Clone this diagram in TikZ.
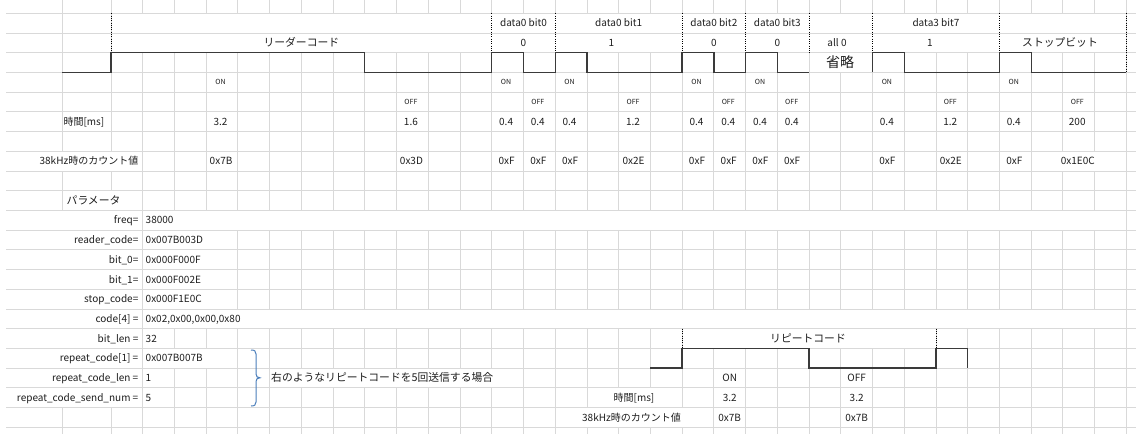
\documentclass[tikz,border=0pt]{standalone}
\usepackage{fontspec}
\setmainfont{Noto Sans CJK JP}
\definecolor{gridc}{HTML}{D9D9D9}
\definecolor{wavec}{HTML}{3A3A3A}
\definecolor{txt}{HTML}{1E1E1E}
\definecolor{bracec}{HTML}{4A7EBB}
\pgfmathdeclarefunction{cx}{1}{\pgfmathparse{111+31.73*#1}}
\pgfmathdeclarefunction{cc}{1}{\pgfmathparse{111+31.73*#1+15.86}}
\pgfmathdeclarefunction{rt}{1}{\pgfmathparse{13.3+19.71*(#1-1)}}
\pgfmathdeclarefunction{rc}{1}{\pgfmathparse{13.3+19.71*(#1-1)+9.855}}
\begin{document}
\begin{tikzpicture}[x=1pt,y=-1pt,
  t/.style={font=\fontsize{10}{12}\selectfont, text=txt, inner sep=0pt, text height=7.3pt, text depth=0pt},
  tj/.style={font=\fontsize{10.8}{12}\selectfont, text=txt, inner sep=0pt, text height=7.9pt, text depth=0pt},
  ts/.style={font=\fontsize{7}{8}\selectfont, text=txt, inner sep=0pt, text height=5.1pt, text depth=0pt},
  tl/.style={font=\fontsize{14}{16}\selectfont, text=txt, inner sep=0pt, text height=10.2pt, text depth=0pt},
  gridline/.style={draw=gridc, line width=0.9pt},
  wave/.style={draw=wavec, line width=1.3pt, line join=miter},
  sepline/.style={draw=black, line width=0.8pt, dash pattern=on 0.9pt off 1.4pt},
  cover/.style={fill=white, draw=none},
  bracestyle/.style={draw=bracec, line width=1pt}]
\useasboundingbox (0,0) rectangle (1136,434);
\fill[white] (0,0) rectangle (1136,434);
% vertical grid
\foreach \k in {1,...,32} \draw[gridline] ({cx(\k)},0) -- ({cx(\k)},434);
\draw[gridline] (62.3,0) -- (62.3,434);
\draw[gridline] (111,0) -- (111,434);
% merged / overflow areas
\fill[cover] (111.6,{rt(1)}) rectangle ({cx(32)-0.6},{rt(3)});
\fill[cover] ({cx(22)+0.6},{rt(3)}) rectangle ({cx(24)-0.6},{rt(4)});
\fill[cover] (0,{rt(8)}) rectangle ({cx(1)-0.6},{rt(9)});
\fill[cover] ({cx(29)+0.6},{rt(8)}) rectangle ({cx(32)-0.6},{rt(9)});
\fill[cover] (63,{rt(10)}) rectangle ({cx(1)-0.6},{rt(11)});
\fill[cover] (0,{rt(11)}) rectangle ({cx(1)-0.6},{rt(21)});
\fill[cover] ({cx(1)+0.6},{rt(11)}) rectangle ({cx(32)-0.6},{rt(12)});
\fill[cover] ({cx(1)+0.6},{rt(16)}) rectangle ({cx(32)-0.6},{rt(17)});
\fill[cover] ({cx(1)+0.6},{rt(12)}) rectangle ({cx(4)-0.6},{rt(16)});
\fill[cover] ({cx(1)+0.6},{rt(18)}) rectangle ({cx(4)-0.6},{rt(19)});
\fill[cover] ({cx(18)+0.6},{rt(17)}) rectangle ({cx(26)-0.6},{rt(18)});
\fill[cover] ({cx(5)+0.6},{rt(19)}) rectangle ({cx(13)-0.6},{rt(20)});
\fill[cover] ({cx(15)+0.6},{rt(20)}) rectangle ({cx(18)-0.6},{rt(21)});
\fill[cover] ({cx(14)+0.6},{rt(21)}) rectangle ({cx(19)-0.6},{rt(22)});
% horizontal grid
\foreach \k in {1,...,22} \draw[gridline] (6,{rt(\k)}) -- (1136,{rt(\k)});
% dotted separators
\foreach \k in {0,12,14,18,20,22,24,28} \draw[sepline] ({cx(\k)},{rt(1)}) -- ({cx(\k)},{rt(3)});
\draw[sepline] ({cx(32)},{rt(1)}) -- ({cx(32)},{rt(4)});
\draw[sepline] ({cx(18)},{rt(17)}) -- ({cx(18)},{rt(18)});
\draw[sepline] ({cx(26)},{rt(17)}) -- ({cx(26)},{rt(18)});
% waveforms
\draw[wave] (62.3,{rt(4)}) -- (111,{rt(4)}) -- (111,{rt(3)}) -- ({cx(8)},{rt(3)}) -- ({cx(8)},{rt(4)})
  -- ({cx(12)},{rt(4)}) -- ({cx(12)},{rt(3)}) -- ({cx(13)},{rt(3)}) -- ({cx(13)},{rt(4)})
  -- ({cx(14)},{rt(4)}) -- ({cx(14)},{rt(3)}) -- ({cx(15)},{rt(3)}) -- ({cx(15)},{rt(4)})
  -- ({cx(18)},{rt(4)}) -- ({cx(18)},{rt(3)}) -- ({cx(19)},{rt(3)}) -- ({cx(19)},{rt(4)})
  -- ({cx(20)},{rt(4)}) -- ({cx(20)},{rt(3)}) -- ({cx(21)},{rt(3)}) -- ({cx(21)},{rt(4)})
  -- ({cx(22)},{rt(4)});
\draw[wave] ({cx(24)},{rt(4)}) -- ({cx(24)},{rt(3)}) -- ({cx(25)},{rt(3)}) -- ({cx(25)},{rt(4)})
  -- ({cx(28)},{rt(4)}) -- ({cx(28)},{rt(3)}) -- ({cx(29)},{rt(3)}) -- ({cx(29)},{rt(4)})
  -- ({cx(32)},{rt(4)});
\draw[wave] ({cx(17)},{rt(19)}) -- ({cx(18)},{rt(19)}) -- ({cx(18)},{rt(18)}) -- ({cx(22)},{rt(18)})
  -- ({cx(22)},{rt(19)}) -- ({cx(26)},{rt(19)}) -- ({cx(26)},{rt(18)}) -- ({cx(27)},{rt(18)})
  -- ({cx(27)},{rt(19)});
% R1 labels
\node[t] (lb0) at ({cx(13)},{rc(1)}) {data0 bit0};
\node[t] (lb1) at ({cx(16)},{rc(1)}) {data0 bit1};
\node[t] (lb2) at ({cx(19)},{rc(1)}) {data0 bit2};
\node[t] (lb3) at ({cx(21)},{rc(1)}) {data0 bit3};
\node[t] (lb7) at ({cx(26)},{rc(1)}) {data3 bit7};
% R2
\node[tj] (leader) at ({cx(6)},{rc(2)}) {リーダーコード};
\node[t] (v0) at ({cx(13)},{rc(2)}) {0};
\node[t] (v1) at (611.5,{rc(2)}) {1};
\node[t] (v2) at ({cx(19)},{rc(2)}) {0};
\node[t] (v3) at ({cx(21)},{rc(2)}) {0};
\node[t] (vall) at (837,{rc(2)}) {all 0};
\node[t] (v7) at (930,{rc(2)}) {1};
\node[tj] (stopb) at (1060,{rc(2)}) {ストップビット};
\node[tl] (omit) at (840,{rc(3)}) {省略};
% R4 ON
\foreach \k/\n in {3/a,12/b,14/c,18/d,20/e,24/f,28/g}
  \node[ts] (on\n) at ({cc(\k)-1.5},{rc(4)}) {ON};
% R5 OFF
\foreach \k/\n in {9/a,13/b,16/c,19/d,21/e,26/f,30/g}
  \node[ts] (off\n) at ({cc(\k)-1.5},{rc(5)}) {OFF};
% R6 time
\node[t,anchor=west] (timelbl) at (63.3,{rc(6)}) {時間[ms]};
\foreach \k/\v/\n in {3/3.2/a,9/1.6/b,12/0.4/c,13/0.4/d,14/0.4/e,16/1.2/f,18/0.4/g,19/0.4/h,20/0.4/i,21/0.4/j,24/0.4/k,26/1.2/l,28/0.4/m,30/200/n}
  \node[t] (tm\n) at ({cc(\k)-1.5},{rc(6)}) {\v};
% R8 counts
\node[t,anchor=east] (cntlbl) at (138.5,{rc(8)}) {38kHz時のカウント値};
\foreach \k/\v/\n in {3/0x7B/a,9/0x3D/b,12/0xF/c,13/0xF/d,14/0xF/e,16/0x2E/f,18/0xF/g,19/0xF/h,20/0xF/i,21/0xF/j,24/0xF/k,26/0x2E/l,28/0xF/m,30/0x1E0C/n}
  \node[t] (ct\n) at ({cc(\k)-1},{rc(8)}) {\v};
% parameters
\node[tj,anchor=west] (param) at (66.5,{rc(10)}) {パラメータ};
\node[t,anchor=east] (p1l) at (138.5,{rc(11)}) {freq=};
\node[t,anchor=west] (p1v) at (145.5,{rc(11)}) {38000};
\node[t,anchor=east] (p2l) at (138.5,{rc(12)}) {reader\_code=};
\node[t,anchor=west] (p2v) at (145.5,{rc(12)}) {0x007B003D};
\node[t,anchor=east] (p3l) at (138.5,{rc(13)}) {bit\_0=};
\node[t,anchor=west] (p3v) at (145.5,{rc(13)}) {0x000F000F};
\node[t,anchor=east] (p4l) at (138.5,{rc(14)}) {bit\_1=};
\node[t,anchor=west] (p4v) at (145.5,{rc(14)}) {0x000F002E};
\node[t,anchor=east] (p5l) at (138.5,{rc(15)}) {stop\_code=};
\node[t,anchor=west] (p5v) at (145.5,{rc(15)}) {0x000F1E0C};
\node[t,anchor=east] (p6l) at (138.5,{rc(16)}) {code[4] =};
\node[t,anchor=west] (p6v) at (145.5,{rc(16)}) {0x02,0x00,0x00,0x80};
\node[t,anchor=east] (p7l) at (138.5,{rc(17)}) {bit\_len =};
\node[t,anchor=west] (p7v) at (145.5,{rc(17)}) {32};
\node[t,anchor=east] (p8l) at (138.5,{rc(18)}) {repeat\_code[1] =};
\node[t,anchor=west] (p8v) at (145.5,{rc(18)}) {0x007B007B};
\node[t,anchor=east] (p9l) at (138.5,{rc(19)}) {repeat\_code\_len =};
\node[t,anchor=west] (p9v) at (145.5,{rc(19)}) {1};
\node[t,anchor=east] (p10l) at (138.5,{rc(20)}) {repeat\_code\_send\_num =};
\node[t,anchor=west] (p10v) at (145.5,{rc(20)}) {5};
% brace and note
\draw[bracestyle] (251,350) .. controls (254.5,350) and (256,351) .. (256,354) -- (256,374)
  .. controls (256,376.5) and (257.5,377.8) .. (260,377.8)
  .. controls (257.5,377.8) and (256,379) .. (256,381.5) -- (256,402)
  .. controls (256,405) and (254.5,406) .. (251,406);
\node[tj,anchor=west] (note) at (271,{rc(19)}) {右のようなリピートコードを5回送信する場合};
% repeat section
\node[tj] (rep) at (808,{rc(17)}) {リピートコード};
\node[t] (ron) at ({cc(19)},{rc(19)}) {ON};
\node[t] (roff) at ({cc(23)},{rc(19)}) {OFF};
\node[t] (rtime) at (634,{rc(20)}) {時間[ms]};
\node[t] (rt1) at ({cc(19)},{rc(20)}) {3.2};
\node[t] (rt2) at ({cc(23)},{rc(20)}) {3.2};
\node[t] (rcnt) at (631.5,{rc(21)}) {38kHz時のカウント値};
\node[t] (rc1) at ({cc(19)},{rc(21)}) {0x7B};
\node[t] (rc2) at ({cc(23)},{rc(21)}) {0x7B};
\end{tikzpicture}
\end{document}
